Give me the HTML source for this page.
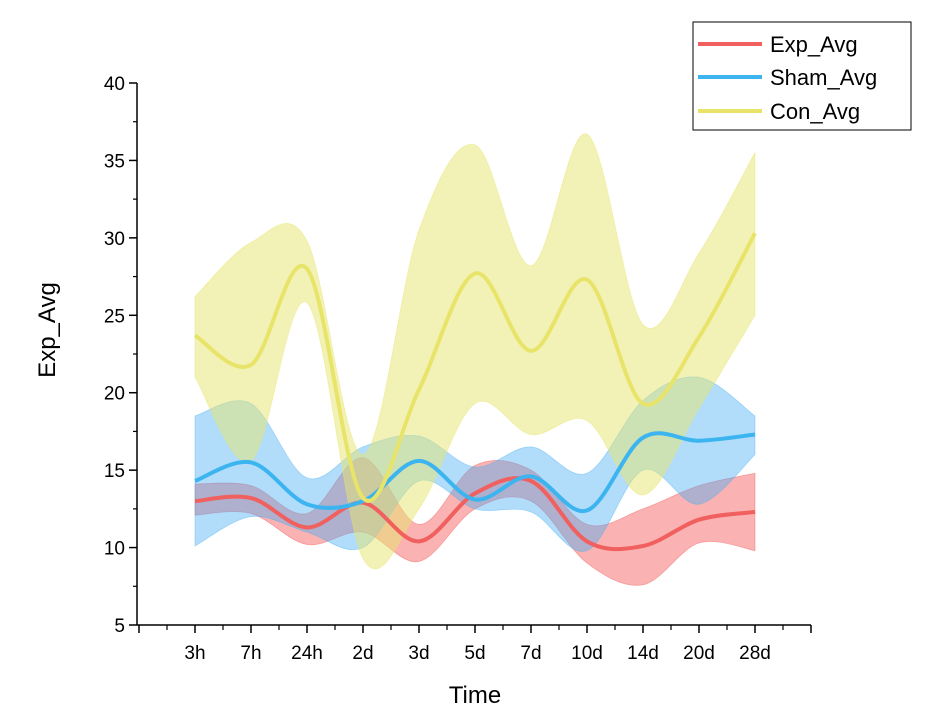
<!DOCTYPE html>
<html><head><meta charset="utf-8"><style>
body{margin:0;background:#fff;}
svg{display:block;font-family:"Liberation Sans",Arial,sans-serif;}
</style></head><body>
<svg id="chart" width="930" height="720">
<g id="bands"></g>
<g id="lines"></g>
<g id="axes"></g>
<text x="55" y="330" transform="rotate(-90 55 330)" text-anchor="middle" font-size="24">Exp_Avg</text>
<text x="475" y="703" text-anchor="middle" font-size="24">Time</text>
<g>
<rect x="693" y="22" width="218" height="108" fill="#fff" stroke="#000" stroke-width="1"/>
<line x1="698" y1="44" x2="762" y2="44" stroke="#f0605f" stroke-width="4"/>
<text x="770" y="52" font-size="22">Exp_Avg</text>
<line x1="698" y1="77" x2="762" y2="77" stroke="#3cb4f0" stroke-width="4"/>
<text x="770" y="85" font-size="22">Sham_Avg</text>
<line x1="698" y1="111" x2="762" y2="111" stroke="#e8e46a" stroke-width="4"/>
<text x="770" y="119" font-size="22">Con_Avg</text>
</g>
</svg>
<script>
const categories=["3h","7h","24h","2d","3d","5d","7d","10d","14d","20d","28d"];
const yTicks=[5,10,15,20,25,30,35,40];
const conMean=[23.7,21.8,28.0,13.2,20.2,27.7,22.7,27.3,19.3,23.6,30.3];
const conUpper=[26.2,29.7,29.8,16.0,30.5,36.0,28.2,36.7,24.4,29.0,35.5];
const conLower=[21.0,15.6,25.8,9.3,12.5,19.3,17.3,18.2,13.4,19.0,25.0];
const shamMean=[14.3,15.5,12.8,13.0,15.6,13.1,14.6,12.4,17.1,16.9,17.3];
const shamUpper=[18.5,19.3,14.5,16.5,17.2,15.2,16.5,14.8,19.5,21.0,18.5];
const shamLower=[10.1,12.0,11.0,10.0,14.3,12.5,12.3,9.8,15.0,12.8,16.0];
const expMean=[13.0,13.2,11.3,12.9,10.4,13.5,14.3,10.4,10.1,11.8,12.3];
const expUpper=[14.1,14.0,12.2,15.8,11.5,15.3,15.0,11.5,12.5,14.0,14.8];
const expLower=[12.1,12.2,10.2,11.0,9.1,12.5,13.0,9.0,7.6,10.3,9.8];

const NS="http://www.w3.org/2000/svg";
const X0=139,X1=811,Y0=625,Y1=83;
function xs(i){return X0+(i+1)*(X1-X0)/(categories.length+1);}
function ys(v){return Y0-(v-5)*(Y0-Y1)/35;}
function pts(arr){return arr.map((v,i)=>[xs(i),ys(v)]);}
function spline(p){
  let d="";
  for(let i=0;i<p.length-1;i++){
    const p0=p[i-1]||p[i],p1=p[i],p2=p[i+1],p3=p[i+2]||p[i+1];
    const c1=[p1[0]+(p2[0]-p0[0])/6,p1[1]+(p2[1]-p0[1])/6];
    const c2=[p2[0]-(p3[0]-p1[0])/6,p2[1]-(p3[1]-p1[1])/6];
    d+=` C${c1[0]},${c1[1]} ${c2[0]},${c2[1]} ${p2[0]},${p2[1]}`;
  }
  return d;
}
function mk(tag,attrs,parent){const e=document.createElementNS(NS,tag);for(const k in attrs)e.setAttribute(k,attrs[k]);parent.appendChild(e);return e;}
const bands=document.getElementById("bands"),lines=document.getElementById("lines"),axes=document.getElementById("axes");
const series=[
 ["exp",expMean,expUpper,expLower,"#f0605f","rgba(245,95,95,0.48)"],
 ["sham",shamMean,shamUpper,shamLower,"#3cb4f0","rgba(70,175,245,0.42)"],
 ["con",conMean,conUpper,conLower,"#e8e46a","rgba(232,230,110,0.5)"]
];
series.forEach(s=>{
  const up=pts(s[2]),lo=pts(s[3]).reverse();
  const d="M"+up[0][0]+","+up[0][1]+spline(up)+" L"+lo[0][0]+","+lo[0][1]+spline(lo)+" Z";
  const b=mk("path",{d:d,fill:s[5],stroke:s[5],"stroke-width":"0.8"},bands);
  
  
});
series.forEach(s=>{
  const m=pts(s[1]);
  const l=mk("path",{d:"M"+m[0][0]+","+m[0][1]+spline(m),fill:"none",stroke:s[4],"stroke-width":"4"},lines);
  
  
});
const ya=mk("line",{x1:X0-2,y1:Y1,x2:X0-2,y2:Y0,stroke:"#000","stroke-width":"1.5"},axes);


const xa=mk("line",{x1:X0-2,y1:Y0,x2:X1,y2:Y0,stroke:"#000","stroke-width":"1.5"},axes);


yTicks.forEach((v,i)=>{
  const t=mk("line",{x1:X0-10,y1:ys(v),x2:X0-2,y2:ys(v),stroke:"#000","stroke-width":"1.5"},axes);
  
  
  if(i<yTicks.length-1){
    const m=mk("line",{x1:X0-6,y1:ys(v+2.5),x2:X0-2,y2:ys(v+2.5),stroke:"#000","stroke-width":"1.2"},axes);
    
    
  }
  const lb=mk("text",{x:X0-14,y:ys(v)+7,"text-anchor":"end","font-size":"19"},axes);
  lb.textContent=v;
  
  
});
for(let i=-1;i<=categories.length;i++){
  const x=xs(i);
  const t=mk("line",{x1:x,y1:Y0,x2:x,y2:Y0+8,stroke:"#000","stroke-width":"1.5"},axes);
  
  
  if(i<categories.length){
    const m=mk("line",{x1:x+(X1-X0)/(categories.length+1)/2,y1:Y0,x2:x+(X1-X0)/(categories.length+1)/2,y2:Y0+5,stroke:"#000","stroke-width":"1.2"},axes);
    
    
  }
}
categories.forEach((c,i)=>{
  const lb=mk("text",{x:xs(i),y:Y0+34,"text-anchor":"middle","font-size":"19"},axes);
  lb.textContent=c;
  
  
});
</script>
</body></html>
